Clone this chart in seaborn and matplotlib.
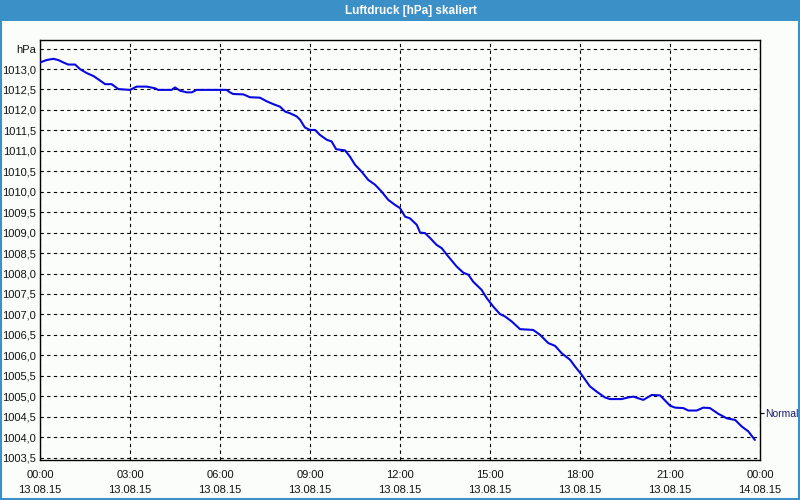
import matplotlib
matplotlib.use("Agg")
import matplotlib.pyplot as plt
from matplotlib.patches import Rectangle
import seaborn as sns
import numpy as np

# ---- data (hours since 13.08.15 00:00, pressure in hPa) ----
hours = [0.00, 0.22, 0.44, 0.61, 0.78, 0.94, 1.17, 1.33, 1.56, 1.78, 2.00, 2.17, 2.39, 2.61,
         3.00, 3.22, 3.56, 3.83, 3.94, 4.39, 4.50, 4.67, 4.89, 5.06, 5.22, 6.22, 6.33, 6.44,
         6.78, 7.00, 7.33, 7.56, 7.78, 8.00, 8.17, 8.33, 8.56, 8.67, 8.83, 9.00, 9.17, 9.33,
         9.56, 9.72, 9.87, 10.17, 10.33, 10.50, 10.72, 10.94, 11.17, 11.39, 11.61, 11.83,
         12.00, 12.17, 12.33, 12.56, 12.67, 12.83, 13.00, 13.22, 13.39, 13.56, 13.89, 14.11,
         14.28, 14.44, 14.72, 14.89, 15.11, 15.33, 15.50, 15.72, 16.00, 16.44, 16.67, 16.94,
         17.17, 17.39, 17.67, 17.83, 18.06, 18.33, 18.56, 18.83, 19.00, 19.39, 19.61, 19.78,
         19.94, 20.11, 20.39, 20.67, 21.00, 21.17, 21.44, 21.61, 21.89, 22.11, 22.33, 22.61,
         22.89, 23.17, 23.39, 23.61, 23.83]
pressure = [1013.16, 1013.22, 1013.25, 1013.22, 1013.16, 1013.11, 1013.11, 1013.00, 1012.90,
            1012.83, 1012.72, 1012.63, 1012.63, 1012.51, 1012.49, 1012.57, 1012.57, 1012.53,
            1012.49, 1012.49, 1012.55, 1012.47, 1012.43, 1012.43, 1012.49, 1012.49, 1012.43,
            1012.39, 1012.38, 1012.31, 1012.30, 1012.21, 1012.14, 1012.08, 1011.96, 1011.92,
            1011.84, 1011.76, 1011.57, 1011.51, 1011.51, 1011.39, 1011.27, 1011.23, 1011.04,
            1011.01, 1010.86, 1010.66, 1010.49, 1010.29, 1010.17, 1010.00, 1009.80, 1009.68,
            1009.60, 1009.39, 1009.35, 1009.19, 1009.00, 1008.99, 1008.87, 1008.70, 1008.62,
            1008.46, 1008.17, 1008.02, 1007.97, 1007.80, 1007.60, 1007.40, 1007.19, 1007.01,
            1006.95, 1006.83, 1006.64, 1006.62, 1006.50, 1006.30, 1006.23, 1006.05, 1005.89,
            1005.73, 1005.52, 1005.24, 1005.11, 1004.97, 1004.93, 1004.93, 1004.97, 1004.99,
            1004.95, 1004.91, 1005.03, 1005.02, 1004.77, 1004.72, 1004.71, 1004.65, 1004.65,
            1004.72, 1004.71, 1004.57, 1004.46, 1004.42, 1004.26, 1004.14, 1003.93]

x_tick_hours = [0, 3, 6, 9, 12, 15, 18, 21, 24]
x_tick_labels = ["00:00\n13.08.15", "03:00\n13.08.15", "06:00\n13.08.15", "09:00\n13.08.15",
                 "12:00\n13.08.15", "15:00\n13.08.15", "18:00\n13.08.15", "21:00\n13.08.15",
                 "00:00\n14.08.15"]
y_tick_values = [1003.5, 1004.0, 1004.5, 1005.0, 1005.5, 1006.0, 1006.5, 1007.0, 1007.5,
                 1008.0, 1008.5, 1009.0, 1009.5, 1010.0, 1010.5, 1011.0, 1011.5, 1012.0,
                 1012.5, 1013.0, 1013.5]
y_tick_labels = ["1003,5", "1004,0", "1004,5", "1005,0", "1005,5", "1006,0", "1006,5",
                 "1007,0", "1007,5", "1008,0", "1008,5", "1009,0", "1009,5", "1010,0",
                 "1010,5", "1011,0", "1011,5", "1012,0", "1012,5", "1013,0", "hPa"]
normal_value = 1004.6
normal_label = "Normal"
title = "Luftdruck [hPa] skaliert"

# ---- style ----
sns.set_style("white")
plt.rcParams['font.family'] = ['Liberation Sans', 'DejaVu Sans']
plt.rcParams['font.size'] = 8

bg = '#fbfdfb'
bar_blue = '#3c90c8'

fig = plt.figure(figsize=(8, 5), dpi=100, facecolor=bg)
ax = fig.add_axes([0.05, 0.08, 0.90, 0.84])
ax.set_facecolor(bg)

sns.lineplot(x=hours, y=pressure, ax=ax, color='#0808e0', linewidth=1.5,
             estimator=None, sort=False, zorder=5)

ax.set_xlim(0, 24)
ax.set_ylim(1003.44, 1013.71)

ax.set_xticks(x_tick_hours)
ax.set_xticklabels(x_tick_labels, linespacing=1.6)
ax.set_xticks(np.arange(0, 25, 1), minor=True)
ax.tick_params(axis='x', which='both', direction='out', length=3, width=0.8,
               color='black', pad=4, labelsize=8, labelcolor='#111111')

ax.set_yticks(y_tick_values)
ax.set_yticklabels(y_tick_labels)
ax.tick_params(axis='y', which='both', length=0, pad=3, labelsize=8, labelcolor='#111111')

ax.grid(True, which='major', linestyle=(0, (3, 3)), color='black', linewidth=0.8)
for s in ax.spines.values():
    s.set_color('black')
    s.set_linewidth(1.0)
ax.set_xlabel('')
ax.set_ylabel('')

# right-side "Normal" marker
ax2 = ax.twinx()
ax2.set_ylim(ax.get_ylim())
ax2.set_yticks([normal_value])
ax2.set_yticklabels([normal_label])
ax2.tick_params(axis='y', direction='out', length=3, width=0.8, color='black',
                pad=1, labelsize=7.5, labelcolor='#1c1c6e')
ax2.grid(False)
for s in ax2.spines.values():
    s.set_visible(False)

# title bar and border
fig.patches.append(Rectangle((0, 1 - 21 / 500), 1, 21 / 500, transform=fig.transFigure,
                             facecolor=bar_blue, edgecolor='none', zorder=0))
fig.patches.append(Rectangle((0.001, 0.002), 0.998, 0.996, transform=fig.transFigure,
                             facecolor='none', edgecolor=bar_blue, linewidth=1.5, zorder=1))
fig.text(411 / 800, 1 - 11 / 500, title, ha='center', va='center', color='white',
         fontsize=8.5, fontweight='bold')

fig.savefig('out.png', dpi=100, facecolor=bg)
